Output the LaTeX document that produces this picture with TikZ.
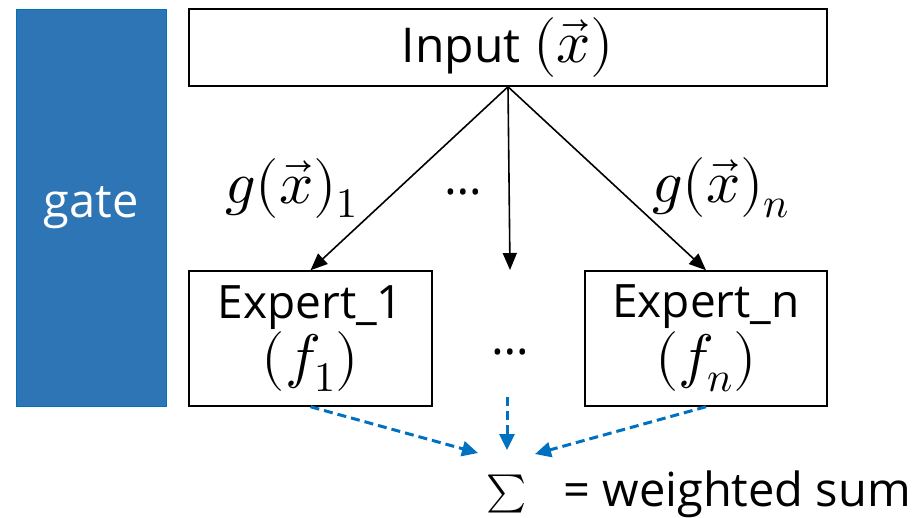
\documentclass[tikz,border=0pt]{standalone}
\usepackage{fontspec}
\usepackage{unicode-math}
\setmainfont{Open Sans}
\setmathfont{Latin Modern Math}
\usetikzlibrary{arrows.meta, positioning}
\definecolor{gateblue}{RGB}{46,117,182}
\definecolor{gateedge}{RGB}{0,112,192}
\definecolor{sumblue}{RGB}{0,112,192}
\newcommand{\moemath}[1]{{\fontsize{60}{60}\selectfont$#1$}}
\tikzset{
  moe box/.style={
    rectangle, draw=black, line width=1.5pt, fill=white,
    inner sep=0pt, align=center, font=\fontsize{46}{54}\selectfont
  },
  moe gate/.style={
    rectangle, draw=gateedge, fill=gateblue, line width=1pt,
    text=white, font=\fontsize{47}{50}\selectfont
  },
  moe label/.style={
    font=\fontsize{48}{50}\selectfont, inner sep=0pt
  },
  moe arrow/.style={
    -{Triangle[length=17pt,width=14pt]}, line width=1.6pt, draw=black
  },
  moe sum arrow/.style={
    -{Triangle[length=16pt,width=15pt]}, line width=3pt, draw=sumblue,
    dash pattern=on 9pt off 5pt
  }
}

\begin{document}
\begin{tikzpicture}[x=1pt, y=-1pt]
  \useasboundingbox (0,0) rectangle (915,517);
  % Gate bar and input
  \node (gate) [moe gate, minimum width=150pt, minimum height=397pt] at (91,207.5) {gate};
  \node (input) [moe box, font=\fontsize{48}{54}\selectfont, minimum width=638pt, minimum height=77pt] at (508,47.5) {Input \moemath{(\vec{x})}};
  % Experts
  \node (exp1) [moe box, minimum width=243pt, minimum height=135pt] at (310.5,338.5) {Expert\_1\\[2pt]\moemath{(f_1)}};
  \node (expn) [moe box, minimum width=242pt, minimum height=135pt] at (706,338.5) {Expert\_n\\[2pt]\moemath{(f_n)}};
  \node (dotsb) [moe label] at (510,352) {…};
  % Gate weights
  \node (g1) [moe label] at (292,188) {\moemath{g(\vec{x})_1}};
  \node (dotsa) [moe label] at (463,192) {…};
  \node (gn) [moe label] at (721,188) {\moemath{g(\vec{x})_n}};
  % Weighted sum
  \node (sum) [font=\fontsize{38}{48}\selectfont, inner sep=0pt] at (507,494) {$\sum$};
  \node (wsum) [moe label, font=\fontsize{47}{50}\selectfont, right=36pt of sum] {= weighted sum};

  \coordinate (midend) at (510,270);
  \coordinate (midstart) at (507,397);
  \coordinate (sumleft) at (478,453);
  \coordinate (summid) at (507,450);
  \coordinate (sumright) at (535,454);

  \draw [moe arrow] (input.south) -- (exp1.north);
  \draw [moe arrow] (input.south) -- (midend);
  \draw [moe arrow] (input.south) -- (expn.north);
  \draw [moe sum arrow] (exp1.south) -- (sumleft);
  \draw [moe sum arrow] (midstart) -- (summid);
  \draw [moe sum arrow] (expn.south) -- (sumright);
\end{tikzpicture}
\end{document}
